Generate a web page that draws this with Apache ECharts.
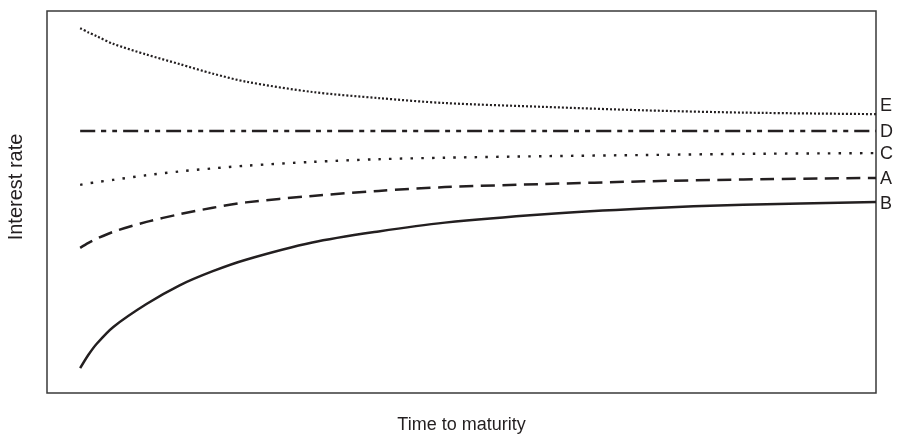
<!DOCTYPE html>
<html>
<head>
<meta charset="utf-8">
<script src="https://cdn.jsdelivr.net/npm/echarts@6/dist/echarts.min.js"></script>
<style>
  html, body { margin: 0; padding: 0; background: #fff; }
  #chart { width: 900px; height: 435px; }
</style>
</head>
<body>
<div id="chart"></div>
<script>
// time to maturity (years) shared by all curves
const maturity = [1, 1.25, 1.5, 2, 3, 4, 5, 6, 8, 10, 12, 15, 18, 21, 25]

// interest rate readings for each curve (arbitrary units)
const rateE = [95.5, 94.4, 93.4, 91.4, 88.6, 86.1, 83.6, 81.5, 78.8, 77.2, 75.9, 74.9, 74.0, 73.4, 73.0]
const rateD = [68.6, 68.6, 68.6, 68.6, 68.6, 68.6, 68.6, 68.6, 68.6, 68.6, 68.6, 68.6, 68.6, 68.6, 68.6]
const rateC = [54.5, 54.9, 55.2, 55.8, 57.0, 58.0, 58.8, 59.5, 60.5, 61.2, 61.6, 62.0, 62.3, 62.6, 62.8]
const rateA = [38.0, 39.3, 40.4, 42.2, 44.8, 46.8, 48.5, 49.9, 51.6, 52.9, 53.9, 54.7, 55.4, 55.9, 56.3]
const rateB = [6.5, 10.0, 12.9, 17.3, 23.3, 28.2, 31.9, 34.9, 39.4, 42.3, 44.6, 46.8, 48.3, 49.3, 50.0]

const curveNames = ['E', 'D', 'C', 'A', 'B']
const curveRates = [rateE, rateD, rateC, rateA, rateB]

const ink = '#231f20'
const font = 'Liberation Sans, Arial, sans-serif'
// dash patterns per curve
const dashes = {
    E: { type: [2, 2], width: 2.2 },
    D: { type: [15, 6, 5, 6, 5, 6], width: 2.5 },
    C: { type: [2.5, 8.2], width: 2.4 },
    A: { type: [14, 7.5], width: 2.5 },
    B: { type: 'solid', width: 2.5 }
}
const labelOffset = { E: [0, -8], D: [0, 1], C: [0, 1], A: [0, 1], B: [0, 2] }

const myChart = echarts.init(document.getElementById('chart'))

const series = curveNames.map(function (name, idx) {
    return {
        name: name,
        type: 'line',
        data: maturity.map(function (t, i) { return [t, curveRates[idx][i]] }),
        smooth: 0.3,
        symbol: 'none',
        silent: true,
        lineStyle: {
            color: ink,
            width: dashes[name].width,
            type: dashes[name].type,
            cap: 'butt'
        },
        endLabel: {
            show: true,
            formatter: name,
            color: ink,
            fontSize: 18,
            fontFamily: font,
            distance: 4,
            offset: labelOffset[name]
        }
    }
})

const option = {
    animation: false,
    backgroundColor: '#fff',
    grid: {
        left: 47,
        right: 24,
        top: 11,
        bottom: 42,
        containLabel: false,
        outerBoundsMode: 'none',
        show: true,
        borderColor: '#3a3a3a',
        borderWidth: 1.5
    },
    xAxis: {
        type: 'value',
        min: 0,
        max: 25,
        name: 'Time to maturity',
        nameLocation: 'middle',
        nameGap: 23,
        nameTextStyle: { color: ink, fontSize: 18, fontFamily: font },
        axisLine: { show: false },
        axisTick: { show: false },
        axisLabel: { show: false },
        splitLine: { show: false }
    },
    yAxis: {
        type: 'value',
        min: 0,
        max: 100,
        name: 'Interest rate',
        nameLocation: 'middle',
        nameGap: 21,
        nameTextStyle: { color: ink, fontSize: 20, fontFamily: font, padding: [0, 0, 0, 30] },
        axisLine: { show: false },
        axisTick: { show: false },
        axisLabel: { show: false },
        splitLine: { show: false }
    },
    series: series
}
option && myChart.setOption(option)
</script>
</body>
</html>
